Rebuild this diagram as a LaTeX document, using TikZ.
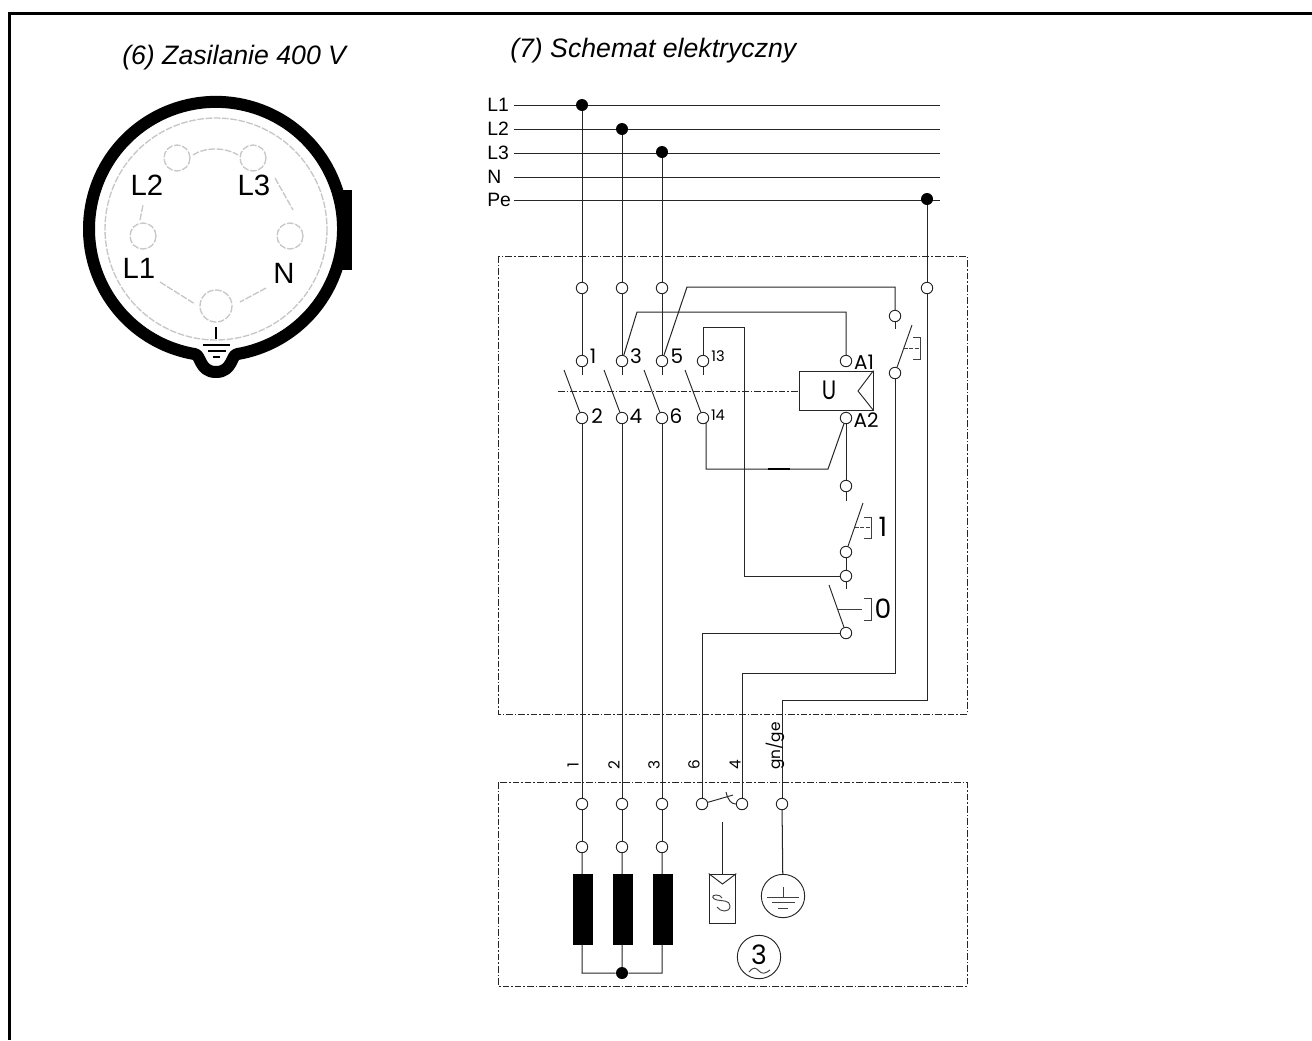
\documentclass[tikz,border=0pt]{standalone}
\usepackage{fontspec}
\setmainfont{Liberation Sans}
\newfontfamily\gothic{Poppins}
\tikzset{
  wire/.style={draw=black!85,line width=0.76pt},
  term/.style={circle,draw=black!85,fill=white,line width=0.7pt,inner sep=0pt,minimum size=8.6pt},
  dot/.style={circle,fill=black,inner sep=0pt,minimum size=9pt},
  grp/.style={draw=black!85,line width=0.65pt,dash pattern=on 5pt off 1.5pt on 1.2pt off 1.5pt},
  lbl/.style={inner sep=0pt,font=\fontsize{14.5}{14.5}\selectfont},
  glb/.style={inner sep=0pt,font=\gothic\fontsize{15}{15}\selectfont},
  gsm/.style={inner sep=0pt,font=\gothic\fontsize{11}{11}\selectfont},
  gbig/.style={inner sep=0pt,font=\gothic\fontsize{20}{20}\selectfont},
  grot/.style={inner sep=0pt,rotate=90,font=\gothic\fontsize{11.5}{11.5}\selectfont},
  ttl/.style={inner sep=0pt,font=\itshape\fontsize{20}{20}\selectfont},
  pin/.style={draw=black!22,line width=1pt,dash pattern=on 5pt off 1.2pt},
  pinlbl/.style={inner sep=0pt,text=black,font=\fontsize{22}{22}\selectfont},
  coil/.style={fill=black,draw=black,minimum width=14.2pt,minimum height=52.5pt,inner sep=0pt},
  act/.style={draw=black!75,line width=0.7pt},
}
\begin{document}
\begin{tikzpicture}[x=0.75pt,y=-0.75pt]
\useasboundingbox (0,0) rectangle (1312,1040);
\fill[white] (0,0) rectangle (1312,1040);
\draw[line width=2.2pt,black] (9.5,1040) -- (9.5,13.7) -- (1312,13.7);
\node[ttl,anchor=base west] (t6) at (122,64) {(6) Zasilanie 400 V};
\node[ttl,anchor=base west] (t7) at (510,57) {(7) Schemat elektryczny};

% --- connector face
\fill[black] (340,190) rectangle (352,270);
\draw[line width=9pt,line join=round,fill=white]
  (194.4,354) arc[start angle=99.8,end angle=440.2,radius=127]
  .. controls (231,354) and (233,372) .. (216,372) .. controls (199,372) and (201,354) .. (194.4,354) -- cycle;
\draw[pin] (216,229) circle[radius=111];
\draw[pin] (177,158) circle[radius=13];
\draw[pin] (253,158) circle[radius=13];
\draw[pin] (143,236) circle[radius=13];
\draw[pin] (290,236) circle[radius=13];
\draw[pin] (216,306) circle[radius=16];
\draw[pin] (193,155) .. controls (205,147) and (225,147) .. (238,155);
\draw[pin] (275,178) -- (293,210);
\draw[pin] (266,288) -- (240,302);
\draw[pin] (160,282) -- (195,304);
\draw[pin] (140,220) -- (143,205);
\node[pinlbl] (cL2) at (147,185) {L2};
\node[pinlbl] (cL3) at (254,185) {L3};
\node[pinlbl] (cL1) at (139,268) {L1};
\node[pinlbl] (cN) at (284,273) {N};
\draw[line width=1.6pt] (216,327) -- (216,339);
\draw[line width=1.4pt] (203,345) -- (230,345);
\draw[line width=1.4pt] (208,351) -- (226,351);
\draw[line width=1.6pt] (213,357) -- (220,357);

% --- group boxes
\draw[grp] (498,256) rectangle (967,714);
\draw[grp] (498,782) rectangle (967,986);
\draw[grp] (558,391) -- (799,391);

% --- bus
\foreach \nm/\yy/\txt in {L1/105/L1,L2/129/L2,L3/153/L3,N/177/N,Pe/200/Pe}{
  \node[lbl,anchor=west] (n\nm) at (487,\yy) {\txt};
  \coordinate (a\nm) at (514,\yy);
  \coordinate (b\nm) at (940,\yy);
  \draw[wire] (a\nm) -- (b\nm);
}
\node[dot] (d1) at (582,105) {};
\node[dot] (d2) at (622,129) {};
\node[dot] (d3) at (662,152) {};
\node[dot] (d4) at (927,199) {};

% --- terminals
\foreach \nm/\xx/\yy in {
  a1/582/288,a2/622/288,a3/662/288,a4/927/288,
  b1/582/361,b2/622/361,b3/662/361,b4/703/361,bA/846/361,
  c1/582/418,c2/622/418,c3/662/418,c4/703/418,cA/846/418,
  s1/895/316,s2/895/373,
  e1/846/486,e2/846/552,e3/846/576,e4/846/633,
  f1/582/804,f2/622/804,f3/662/804,f4/702/804,f5/742/804,f6/782/804,
  g1/582/847,g2/622/847,g3/662/847}{
  \node[term] (\nm) at (\xx,\yy) {};
}
% coils
\node[coil] (k1) at (582.5,909) {};
\node[coil] (k2) at (622.5,909) {};
\node[coil] (k3) at (662.5,909) {};
\node[dot] (star) at (622,973) {};

% phase wires
\draw[wire] (d1) -- (a1); \draw[wire] (a1) -- (b1);
\draw[wire] (d2) -- (a2); \draw[wire] (a2) -- (b2);
\draw[wire] (d3) -- (a3); \draw[wire] (a3) -- (b3);
\draw[wire] (d4) -- (a4);
\foreach \i in {1,2,3}{
  \draw[wire] (c\i) -- (f\i);
  \draw[wire] (f\i) -- (g\i);
  \draw[wire] (g\i) -- (k\i);
}
\foreach \i/\xx in {1/582,2/622,3/662,4/703}{
  \coordinate (st\i) at (\xx,375);
  \draw[wire] (b\i) -- (st\i);
  \coordinate (bl\i) at ({\xx-18},370);
  \draw[wire,line width=0.7pt] (bl\i) -- (c\i);
}
\node[glb] (lb1) at (593,356) {1};
\node[glb] (lb3) at (636,356) {3};
\node[glb] (lb5) at (677,356) {5};
\node[gsm] (lb13) at (718,356) {13};
\node[glb] (lb2) at (597,416) {2};
\node[glb] (lb4) at (636,416) {4};
\node[glb] (lb6) at (676,416) {6};
\node[gsm] (lb14) at (718,415) {14};
\node[glb] (lbA1) at (864,362) {A1};
\node[glb] (lbA2) at (866,420) {A2};

% relay
\node[draw=black!85,line width=0.7pt,fill=white,minimum width=55.5pt,minimum height=29.2pt,inner sep=0pt] (relay) at (836,390.5) {};
\node[gbig] (relayU) at (829,390) {\scalebox{0.8}[1]{U}};
\draw[wire,line width=0.7pt] (relay.north east) -- (858,391) -- (relay.south east);

% wires in relay section
\coordinate (w3a) at (637,312); \coordinate (w3b) at (846,312);
\draw[wire] (b2) -- (w3a) -- (w3b) -- (bA);
\coordinate (w5a) at (687,287); \coordinate (w5b) at (895,287);
\draw[wire] (b3) -- (w5a) -- (w5b) -- (s1);
\coordinate (sst) at (895,329); \draw[wire] (s1) -- (sst);
\coordinate (sbl) at (912,325); \draw[wire,line width=0.7pt] (sbl) -- (s2);
\coordinate (sa) at (904,348); \coordinate (sb) at (920,348);
\draw[act,dash pattern=on 3pt off 1pt] (sa) -- (sb);
\draw[act] (913,337) -- (920,337) -- (920,359) -- (913,359);
\coordinate (x1) at (895,673); \coordinate (x2) at (742,673);
\draw[wire] (s2) -- (x1) -- (x2) -- (f5);
\coordinate (p1) at (927,700); \coordinate (p2) at (782,700);
\draw[wire] (a4) -- (p1) -- (p2) -- (f6);
\coordinate (u1) at (703,327); \coordinate (u2) at (744,327); \coordinate (u3) at (744,576);
\draw[wire] (b4) -- (u1) -- (u2) -- (u3) -- (e3);
\coordinate (v0) at (706,423); \coordinate (v1) at (706,469); \coordinate (v2) at (828,469);
\draw[wire] (v0) -- (v1) -- (v2) -- (cA);
\coordinate (vt1) at (768,469); \coordinate (vt2) at (790,469);
\draw[line width=1.4pt] (vt1) -- (vt2);
\draw[wire] (cA) -- (e1);
\coordinate (e1s) at (846,501); \draw[wire] (e1) -- (e1s);
\coordinate (bb1) at (863,503); \draw[wire,line width=0.7pt] (bb1) -- (e2);
\draw[act,dash pattern=on 3pt off 1pt] (855,527) -- (871,527);
\draw[act] (864,517) -- (871,517) -- (871,538) -- (864,538);
\node[gbig] (lbl1) at (883,527) {1};
\draw[wire] (e2) -- (e3);
\coordinate (e3s) at (846,589); \draw[wire] (e3) -- (e3s);
\coordinate (bb2) at (829,585); \draw[wire,line width=0.7pt] (bb2) -- (e4);
\draw[act] (838,609) -- (862,609);
\draw[act] (864,598) -- (871,598) -- (871,620) -- (864,620);
\node[gbig] (lbl0) at (883,609) {0};
\coordinate (h1) at (702,633);
\draw[wire] (e4) -- (h1) -- (f4);

% bottom section
\node[grot] (r1) at (573,765) {1};
\node[grot] (r2) at (614,765) {2};
\node[grot] (r3) at (654,765) {3};
\node[grot] (r6) at (694,765) {6};
\node[grot] (r4) at (735,765) {4};
\node[grot,anchor=west] (rg) at (775,770) {gn/ge};

\coordinate (y1) at (582,973); \coordinate (y3) at (662,973);
\draw[wire] (k1) -- (y1) -- (star) -- (y3) -- (k3);
\draw[wire] (k2) -- (star);
\coordinate (ct1) at (733,795); \coordinate (ct2) at (726,792);
\draw[wire,line width=0.7pt] (f4) -- (ct1);
\draw[wire,line width=0.7pt] (ct2) .. controls (728,800) and (731,804) .. (f5.west);
% thermal
\node[draw=black!85,line width=0.7pt,minimum width=20pt,minimum height=36.7pt,inner sep=0pt] (therm) at (722.5,898.5) {};
\coordinate (th) at (722.5,822);
\draw[wire] (th) -- (therm);
\draw[wire,line width=0.7pt] (therm.north west) -- (722.5,884) -- (therm.north east);
\draw[act] (717,907) .. controls (720,912) and (730,913) .. (730,906)
  .. controls (730,900) and (722,901) .. (717,900)
  .. controls (712,899) and (711,895) .. (716,895) .. controls (719,895) and (721,896) .. (722,898);
% earth
\node[circle,draw=black!85,line width=0.7pt,minimum size=32.5pt,inner sep=0pt] (earth) at (783,896) {};
\draw[wire] (f6) -- (earth);
\draw[act] (783,887) -- (783,897);
\draw[act] (767,897) -- (799,897);
\draw[act] (772,902) -- (795,902);
\draw[act] (778,908) -- (788,908);
% motor
\node[circle,draw=black!85,line width=0.7pt,minimum size=32.5pt,inner sep=0pt] (motor) at (759,957) {};
\node[gbig] (m3) at (759,955) {3};
\draw[act] (749,972) .. controls (754,966) and (756,968) .. (759,971) .. controls (762,974) and (765,974) .. (770,970);
\end{tikzpicture}
\end{document}
